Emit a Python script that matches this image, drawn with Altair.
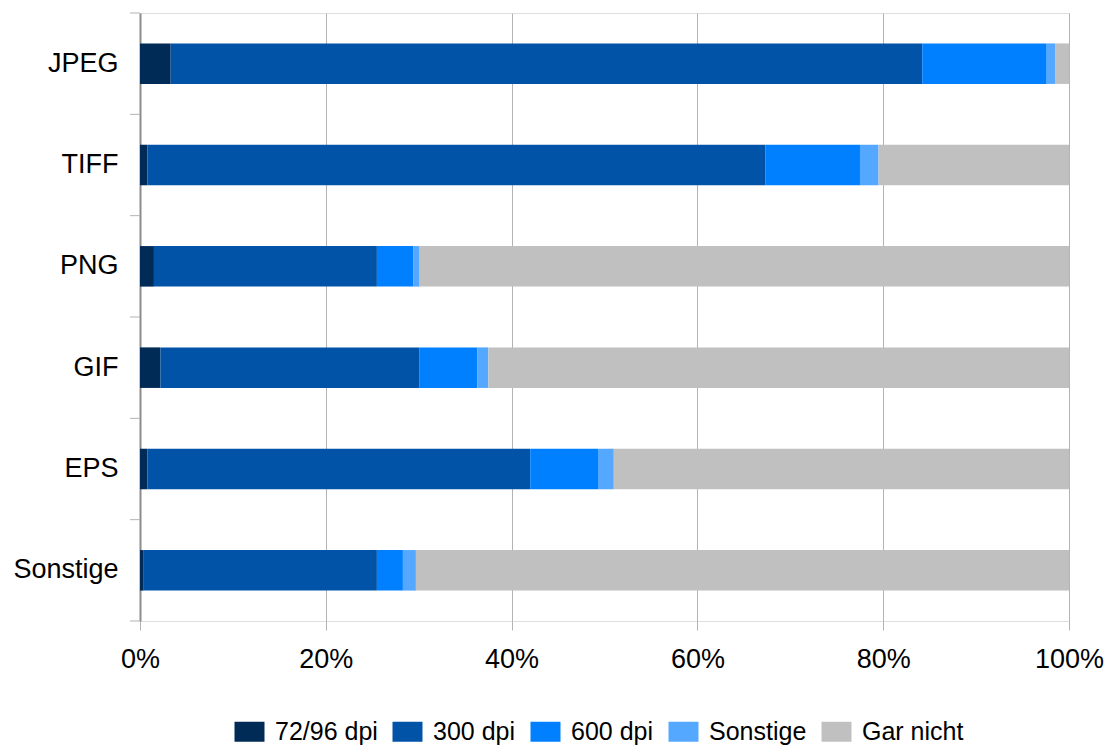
import altair as alt
import pandas as pd

formats = ["JPEG", "TIFF", "PNG", "GIF", "EPS", "Sonstige"]
series = ["72/96 dpi", "300 dpi", "600 dpi", "Sonstige", "Gar nicht"]
colors = ["#002b56", "#0053a6", "#0080ff", "#55a8ff", "#c0c0c0"]

v_72_96 = [3.3, 0.8, 1.5, 2.2, 0.8, 0.4]
v_300 = [80.9, 66.5, 24.0, 27.9, 41.2, 25.1]
v_600 = [13.4, 10.2, 3.9, 6.2, 7.3, 2.8]
v_sonst = [0.9, 2.0, 0.7, 1.2, 1.7, 1.4]
v_gar = [1.5, 20.5, 69.9, 62.5, 49.0, 70.3]

vals = [v_72_96, v_300, v_600, v_sonst, v_gar]
rows = []
for si, (s, vs) in enumerate(zip(series, vals)):
    for f, v in zip(formats, vs):
        rows.append({"Format": f, "Serie": s, "Wert": v, "idx": si})
df = pd.DataFrame(rows)
df_ticks = pd.DataFrame({"Format": formats})
df_last = pd.DataFrame({"Format": formats[-1:]})

FONT = "Liberation Sans"
H = 608
STEP = H / 6.0

bars = alt.Chart(df).mark_bar(strokeWidth=0).encode(
    y=alt.Y("Format:N", sort=formats,
            scale=alt.Scale(paddingInner=0.6, paddingOuter=0.3),
            axis=alt.Axis(title=None, labelFontSize=27, labelFont=FONT, labelColor="#000000",
                          labelPadding=22, ticks=False,
                          labelExpr="datum.value == 'JPEG' ? 'JPEG\u00a0' : datum.value",
                          domainColor="#8c8c8c", domainWidth=2, grid=False)),
    x=alt.X("Wert:Q", stack="normalize",
            scale=alt.Scale(domain=[0, 1], nice=False),
            axis=alt.Axis(title=None, format=".0%", values=[0, 0.2, 0.4, 0.6, 0.8, 1.0],
                          labelFontSize=27, labelFont=FONT, labelColor="#000000",
                          labelPadding=16, tickSize=9, tickColor="#b3b3b3",
                          grid=True, gridColor="#b3b3b3", domain=False, labelFlush=False)),
    color=alt.Color("Serie:N", sort=series,
                    scale=alt.Scale(domain=series, range=colors),
                    legend=alt.Legend(title=None, orient="none", direction="horizontal",
                                      legendX=97, legendY=706, columns=5, padding=0,
                                      symbolType="M-1.5,-1L1.5,-1L1.5,1L-1.5,1Z",
                                      symbolSize=400, symbolStrokeWidth=0,
                                      symbolOpacity=1,
                                      labelFontSize=25, labelFont=FONT, labelColor="#000000",
                                      labelOffset=13, columnPadding=14, labelLimit=300)),
    order=alt.Order("idx:Q", sort="ascending"),
)

ticks_top = alt.Chart(df_ticks).mark_rule(color="#b3b3b3", strokeWidth=1, yOffset=-STEP / 2).encode(
    y=alt.Y("Format:N", sort=formats),
    x=alt.value(-10), x2=alt.value(0),
)
ticks_bottom = alt.Chart(df_last).mark_rule(color="#b3b3b3", strokeWidth=1, yOffset=STEP / 2).encode(
    y=alt.Y("Format:N", sort=formats),
    x=alt.value(-10), x2=alt.value(0),
)

chart = alt.layer(bars, ticks_top, ticks_bottom).properties(
    width=929, height=H,
    autosize=alt.AutoSizeParams(type="none"),
    padding={"left": 140, "top": 13, "right": 39, "bottom": 126},
).configure_view(stroke="#b3b3b3", strokeWidth=1).configure(background="#ffffff")

chart.save("out.html", embed_options={"renderer": "svg", "actions": False})
